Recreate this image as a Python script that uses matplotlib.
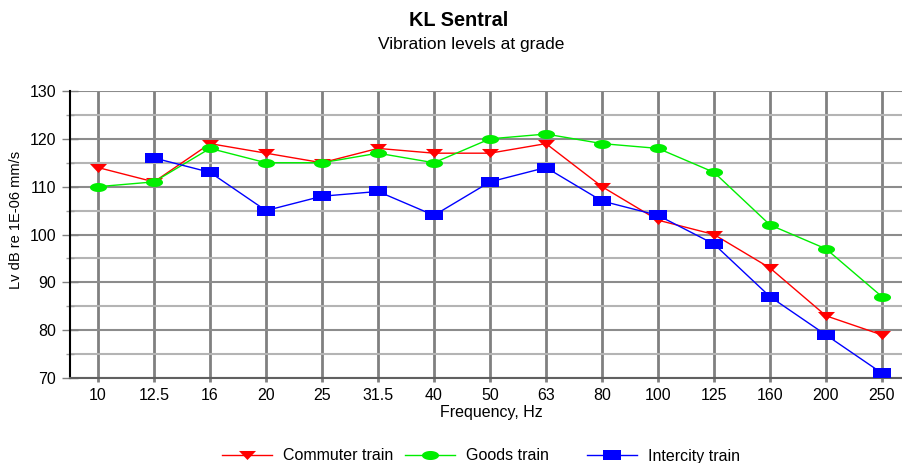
import matplotlib
matplotlib.use("Agg")
import matplotlib.pyplot as plt
import numpy as np
from matplotlib.path import Path

plt.rcParams['font.family'] = ['Liberation Sans', 'DejaVu Sans']

freqs = ['10', '12.5', '16', '20', '25', '31.5', '40', '50', '63', '80',
         '100', '125', '160', '200', '250']
commuter = [114, 111, 119, 117, 115, 118, 117, 117, 119, 110, 103, 100, 93, 83, 79]
goods = [110, 111, 118, 115, 115, 117, 115, 120, 121, 119, 118, 113, 102, 97, 87]
intercity = [np.nan, 116, 113, 105, 108, 109, 104, 111, 114, 107, 104, 98, 87, 79, 71]

# flattened markers like the original (about 17 x 9 px)
tri = Path([(-1, 0.53), (1, 0.53), (0, -0.53), (-1, 0.53)],
           [Path.MOVETO, Path.LINETO, Path.LINETO, Path.CLOSEPOLY])
t = np.linspace(0, 2 * np.pi, 40)
ellipse = Path(np.column_stack([np.cos(t), 0.53 * np.sin(t)]), closed=True)
rect = Path([(-1, -0.58), (1, -0.58), (1, 0.58), (-1, 0.58), (-1, -0.58)],
            [Path.MOVETO, Path.LINETO, Path.LINETO, Path.LINETO, Path.CLOSEPOLY])

fig = plt.figure(figsize=(9.03, 4.63), dpi=100)
ax = fig.add_axes([70 / 903, 1 - 378 / 463, 833 / 903, 287 / 463])

x = np.arange(len(freqs))
l1, = ax.plot(x, commuter, color='#ff0000', lw=1, marker=tri, ms=12.3, mew=0,
              label='Commuter train', zorder=3)
l2, = ax.plot(x, goods, color='#00ee00', lw=1, marker=ellipse, ms=12.3, mew=0,
              label='Goods train', zorder=3)
l3, = ax.plot(x, intercity, color='#0000ff', lw=1, marker=rect, ms=12.3, mew=0,
              label='Intercity train', zorder=3)

ax.set_xlim(-0.5, 14.375)
ax.set_ylim(70, 130)
ax.set_xticks(x)
ax.set_xticklabels(freqs)
ax.set_yticks(np.arange(70, 131, 10))
ax.set_yticks(np.arange(75, 130, 10), minor=True)

ax.grid(axis='x', which='major', color='#808080', lw=2)
ax.grid(axis='y', which='major', color='#8c8c8c', lw=1.5)
ax.grid(axis='y', which='minor', color='#b4b4b4', lw=1.5)
ax.set_axisbelow(True)

for s in ['top', 'right']:
    ax.spines[s].set_visible(False)
ax.spines['left'].set_color('black')
ax.spines['left'].set_linewidth(1.5)
ax.spines['bottom'].set_color('#606060')
ax.spines['bottom'].set_linewidth(1.5)

ax.tick_params(axis='y', which='major', length=12, direction='inout',
               color='#808080', width=1, labelsize=11.5, pad=4)
ax.tick_params(axis='y', which='minor', length=6, direction='inout',
               color='#a0a0a0', width=1)
ax.tick_params(axis='x', length=3, width=2, color='#808080', pad=4, labelsize=11.5)

fig.text(491 / 903, 1 - 413 / 463, 'Frequency, Hz', ha='center', va='center',
         fontsize=11.5)
fig.text(16 / 903, 1 - 220 / 463, 'Lv dB re 1E-06 mm/s', ha='center',
         va='center', rotation=90, fontsize=10.5)

fig.text(459 / 903, 1 - 20 / 463, 'KL Sentral', ha='center', va='center',
         fontsize=14.3, fontweight='bold')
fig.text(471 / 903, 1 - 44 / 463, 'Vibration levels at grade', ha='center',
         va='center', fontsize=12.5)

# three equally spaced legend columns, as in the original
for line, x0 in zip([l1, l2, l3], [222, 405, 587]):
    fig.legend(handles=[line], loc='center left',
               bbox_to_anchor=(x0 / 903, 1 - 456 / 463), frameon=False,
               fontsize=11.5, handlelength=3.1, handletextpad=0.75,
               borderpad=0, borderaxespad=0)

fig.savefig('out.png', dpi=100)
